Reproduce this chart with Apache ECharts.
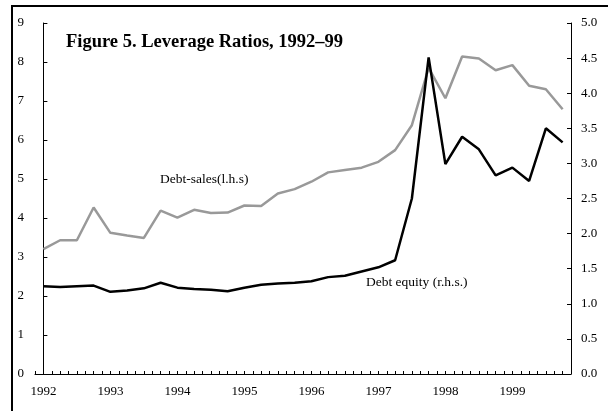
<!DOCTYPE html>
<html>
<head>
<meta charset="utf-8">
<script src="https://cdn.jsdelivr.net/npm/echarts@6/dist/echarts.min.js"></script>
<style>
  html, body { margin: 0; padding: 0; background: #fff; }
  #chart { width: 608px; height: 411px; }
</style>
</head>
<body>
<div id="chart"></div>
<script>
  // quarterly data, 1992Q1 .. 1999Q4
  const years = [1992, 1993, 1994, 1995, 1996, 1997, 1998, 1999]
  const debtSales = [3.20, 3.43, 3.43, 4.27, 3.62, 3.55, 3.49, 4.19,
    4.01, 4.21, 4.13, 4.14, 4.32, 4.31, 4.63, 4.74,
    4.93, 5.17, 5.23, 5.29, 5.44, 5.74, 6.38, 7.85,
    7.07, 8.14, 8.09, 7.79, 7.92, 7.39, 7.30, 6.79]
  const debtEquity = [1.25, 1.24, 1.25, 1.26, 1.17, 1.19, 1.22, 1.30,
    1.23, 1.21, 1.20, 1.18, 1.23, 1.27, 1.29, 1.30,
    1.32, 1.38, 1.40, 1.46, 1.52, 1.62, 2.50, 4.51,
    2.99, 3.38, 3.20, 2.83, 2.94, 2.75, 3.50, 3.30]

  const font = 'Liberation Serif'
  const chart = echarts.init(document.getElementById('chart'))

  chart.setOption({
    animation: false,
    backgroundColor: '#fff',
    title: {
      text: 'Figure 5. Leverage Ratios, 1992\u201399',
      left: 66,
      top: 33,
      padding: 0,
      textStyle: { fontFamily: font, fontSize: 18.5, fontWeight: 'bold', color: '#000' }
    },
    grid: { left: 35, right: 37, top: 23, bottom: 37 },
    xAxis: {
      type: 'value',
      min: -0.5,
      max: 31.5,
      interval: 0.5,
      splitLine: { show: false },
      axisLine: { lineStyle: { color: '#000', width: 1 } },
      axisTick: { inside: true, length: 3, lineStyle: { color: '#000' } },
      axisLabel: {
        margin: 11,
        fontFamily: font,
        fontSize: 13,
        color: '#000',
        formatter: function (v) {
          if (v >= 0 && v % 4 === 0) return String(years[v / 4])
          return ''
        }
      }
    },
    yAxis: [{
      type: 'value',
      min: 0,
      max: 9,
      interval: 1,
      splitLine: { show: false },
      axisLine: { show: true, lineStyle: { color: '#000', width: 1 } },
      axisTick: { show: true, inside: true, length: 4, lineStyle: { color: '#000' } },
      axisLabel: { margin: 11, fontFamily: font, fontSize: 13, color: '#000' }
    }, {
      type: 'value',
      position: 'right',
      min: 0,
      max: 5,
      interval: 0.5,
      splitLine: { show: false },
      axisLine: { show: true, lineStyle: { color: '#000', width: 1 } },
      axisTick: { show: true, inside: true, length: 4, lineStyle: { color: '#000' } },
      axisLabel: {
        margin: 10, fontFamily: font, fontSize: 13, color: '#000',
        formatter: v => v.toFixed(1)
      }
    }],
    series: [{
      name: 'Debt-sales',
      type: 'line',
      yAxisIndex: 0,
      symbol: 'none',
      lineStyle: { color: '#999999', width: 2.5 },
      data: debtSales.map((v, i) => [i, v])
    }, {
      name: 'Debt equity',
      type: 'line',
      yAxisIndex: 1,
      symbol: 'none',
      lineStyle: { color: '#000', width: 2.5 },
      data: debtEquity.map((v, i) => [i, v])
    }],
    graphic: [
      { // outer frame
        type: 'rect', silent: true,
        shape: { x: 12, y: 6, width: 700, height: 500 },
        style: { fill: 'none', stroke: '#000', lineWidth: 2 }
      },
      {
        type: 'text', left: 160, top: 172,
        style: { text: 'Debt-sales(l.h.s)', fontFamily: font, fontSize: 13.5, fill: '#000' }
      },
      {
        type: 'text', left: 366, top: 275,
        style: { text: 'Debt equity (r.h.s.)', fontFamily: font, fontSize: 13.5, fill: '#000' }
      }
    ]
  })
</script>
</body>
</html>
